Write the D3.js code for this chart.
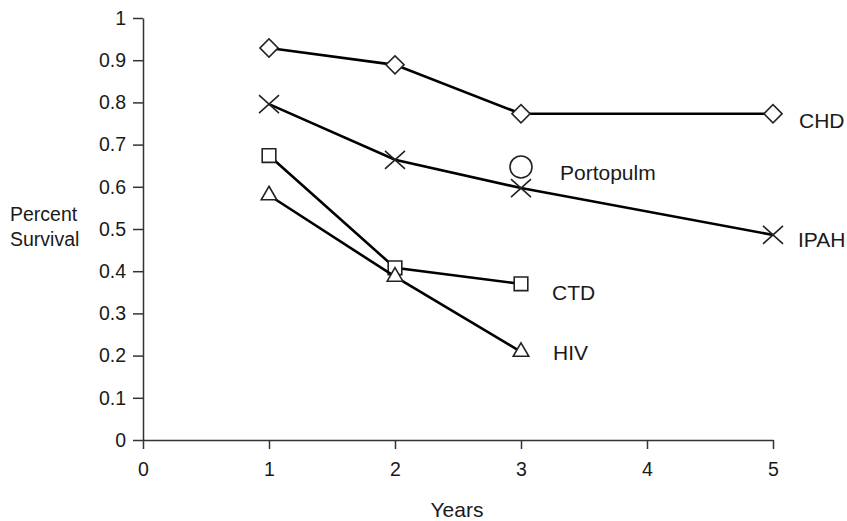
<!DOCTYPE html>
<html>
<head>
<meta charset="utf-8">
<style>
    body { margin: 0; background: #fff; }
    text { font-family: "Liberation Sans", Arial, sans-serif; fill: #1a1a1a; }
    .axis path, .axis line { stroke: #333; stroke-width: 1.5; }
    .axis text { font-size: 19.5px; }
    .line { fill: none; stroke: #000; stroke-width: 2.6; }
    .marker { fill: #fff; stroke: #222; stroke-width: 1.6; }
    .label { font-size: 21px; }
    .ytitle { font-size: 19.5px; }
</style>
</head>
<body>
<script src="https://d3js.org/d3.v7.min.js"></script>
<div id="chart"></div>
<script>

var years = [1, 2, 3, 5];
var chd  = [0.929, 0.889, 0.773, 0.773];
var ipah = [0.796, 0.664, 0.597, 0.486];
var ctd  = [0.674, 0.408, 0.370];
var hiv  = [0.580, 0.387, 0.209];
var portopulm = {year: 3, value: 0.647};
var xTicks = [0, 1, 2, 3, 4, 5];
var yTicks = [0, 0.1, 0.2, 0.3, 0.4, 0.5, 0.6, 0.7, 0.8, 0.9, 1];

// label offsets from the last point of each series
var series = [
    {name: "CHD",  values: chd,  symbol: "diamond",  dx: 26, dy: 14},
    {name: "IPAH", values: ipah, symbol: "cross",    dx: 25, dy: 12},
    {name: "CTD",  values: ctd,  symbol: "square",   dx: 31, dy: 16},
    {name: "HIV",  values: hiv,  symbol: "triangle", dx: 32, dy: 8}
];

var width = 847, height = 521;
var margin = {left: 143, top: 18};
var plotW = 630, plotH = 422;

var x = d3.scaleLinear().domain([0, 5]).range([0, plotW]);
var y = d3.scaleLinear().domain([0, 1]).range([plotH, 0]);

var svg = d3.select("#chart").append("svg")
    .attr("width", width)
    .attr("height", height);

var g = svg.append("g")
    .attr("transform", "translate(" + margin.left + "," + margin.top + ")");

// axes
g.append("g")
    .attr("class", "axis")
    .attr("transform", "translate(0," + plotH + ")")
    .call(d3.axisBottom(x).tickValues(xTicks).tickSize(9).tickSizeOuter(0).tickPadding(13).tickFormat(d3.format("d")));

g.append("g")
    .attr("class", "axis")
    .call(d3.axisLeft(y).tickValues(yTicks).tickSize(10).tickSizeOuter(0).tickPadding(7).tickFormat(function(d) { return d === 0 || d === 1 ? d : d3.format(".1f")(d); }));

// axis titles
svg.append("text")
    .attr("class", "label")
    .attr("x", 457).attr("y", 517)
    .attr("text-anchor", "middle")
    .text("Years");

svg.append("text")
    .attr("class", "ytitle")
    .attr("x", 10).attr("y", 221)
    .text("Percent");
svg.append("text")
    .attr("class", "ytitle")
    .attr("x", 10).attr("y", 246)
    .text("Survival");

var line = d3.line()
    .x(function(d, i) { return x(years[i]); })
    .y(function(d) { return y(d); });

var symbols = {
    diamond: d3.symbol().type(d3.symbolSquare).size(165),
    square: d3.symbol().type(d3.symbolSquare).size(185),
    triangle: d3.symbol().type(d3.symbolTriangle).size(105)
};

series.forEach(function(s) {
    g.append("path")
        .datum(s.values)
        .attr("class", "line")
        .attr("d", line);

    var pts = g.selectAll(".m-" + s.name)
        .data(s.values)
        .enter().append("path")
        .attr("class", "marker");

    if (s.symbol === "cross") {
        pts.attr("d", "M-10,-9L10,9M-10,9L10,-9")
            .attr("transform", function(d, i) { return "translate(" + x(years[i]) + "," + y(d) + ")"; })
            .attr("fill", "none");
    } else if (s.symbol === "diamond") {
        pts.attr("d", symbols.diamond())
            .attr("transform", function(d, i) { return "translate(" + x(years[i]) + "," + y(d) + ") rotate(45)"; });
    } else {
        pts.attr("d", symbols[s.symbol]())
            .attr("transform", function(d, i) { return "translate(" + x(years[i]) + "," + y(d) + ")"; });
    }

    var last = s.values.length - 1;
    g.append("text")
        .attr("class", "label")
        .attr("x", x(years[last]) + s.dx)
        .attr("y", y(s.values[last]) + s.dy)
        .text(s.name);
});

// Portopulm single point
g.append("circle")
    .attr("class", "marker")
    .attr("cx", x(portopulm.year))
    .attr("cy", y(portopulm.value))
    .attr("r", 11);

g.append("text")
    .attr("class", "label")
    .attr("x", x(portopulm.year) + 39)
    .attr("y", y(portopulm.value) + 13)
    .text("Portopulm");

</script>
</body>
</html>
